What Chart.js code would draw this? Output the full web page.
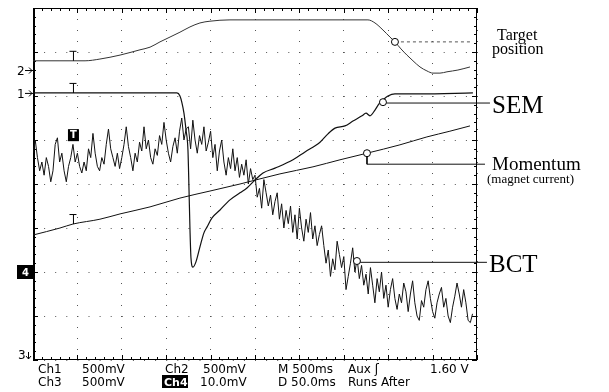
<!DOCTYPE html>
<html><head><meta charset="utf-8">
<script src="https://cdn.jsdelivr.net/npm/chart.js@4.4.0/dist/chart.umd.min.js"></script>
<style>html,body{margin:0;padding:0;background:#fff}#wrap{width:609px;height:392px;position:relative}</style>
</head><body><div id="wrap"><canvas id="c" width="609" height="392"></canvas></div>
<script>
// Time in ms (M 500ms/div, 10 divisions), level in screen divisions (0 = bottom, 8 = top)
const targetTime = [0,304,586,754,980,1205,1318,1430,1543,1655,1768,1880,1993,2218,3772,3851,3941,4020,4076,4144,4211,4279,4358,4436,4504,4583,4662,4785,4921];
const targetLevel = [6.80,6.80,6.80,6.84,6.93,7.05,7.11,7.23,7.34,7.45,7.57,7.66,7.70,7.73,7.73,7.66,7.50,7.34,7.23,7.07,6.93,6.80,6.66,6.57,6.52,6.52,6.55,6.59,6.66];

const semTime = [0,1621,1655,1678,1700,1723,1745,1757,1768,1779,1802,1835,1880,1925,1959,2016,2106,2218,2331,2410,2500,2590,2725,2928,3063,3232,3322,3401,3513,3603,3705,3750,3795,3851,3896,3941,3997,4076,4357,4954];
const semLevel = [6.07,6.07,6.00,5.84,5.61,5.23,4.77,3.86,2.95,2.32,2.11,2.23,2.57,2.89,3.02,3.23,3.41,3.64,3.80,3.91,4.09,4.25,4.36,4.55,4.73,4.95,5.14,5.27,5.32,5.43,5.55,5.61,5.55,5.68,5.82,5.91,6.00,6.05,6.05,6.07];

const momentumTime = [0,304,450,754,980,1318,1655,1993,2331,2781,3153,3457,3761,4132,4436,4695,4921];
const momentumLevel = [2.84,3.00,3.09,3.20,3.32,3.48,3.68,3.84,4.00,4.23,4.39,4.55,4.70,4.89,5.07,5.20,5.32];

// BCT (Ch4) samples, one every 25 ms starting at 0 ms
const bctSampleMs = 25;
const bctLevel = [
4.7,5.0,4.6,4.3,4.5,4.2,4.6,4.4,4.05,4.3,
4.9,5.05,4.5,4.7,4.3,4.05,4.4,4.6,4.9,4.5,
4.7,4.4,4.25,4.5,4.3,4.8,4.6,5.15,4.7,4.4,
4.3,4.6,4.45,4.9,5.25,4.8,4.6,4.4,4.7,4.35,
4.6,4.9,5.3,4.85,4.6,4.3,4.7,4.5,4.95,4.75,
5.3,4.8,5.0,4.6,4.45,4.8,4.65,5.1,4.9,5.4,
5.0,4.7,4.5,4.85,5.05,4.7,5.2,5.5,5.0,5.25,
5.3,4.8,5.45,5.0,4.7,5.1,4.9,5.3,4.75,4.95,
5.2,4.6,4.9,4.3,4.75,5.0,4.5,4.2,4.6,4.35,
4.8,4.3,4.6,4.15,4.45,4.2,4.55,4.0,4.35,4.1,
4.2,3.7,3.9,3.45,4.1,3.8,3.5,3.75,3.3,3.6,
3.8,3.2,3.55,3.0,3.4,3.1,3.5,2.9,3.3,2.75,
3.45,3.0,2.7,3.2,2.9,3.35,2.75,3.05,2.6,2.85,
3.05,2.6,2.2,2.5,1.9,2.3,2.05,2.7,2.4,2.1,
2.35,1.6,1.9,2.2,2.55,2.0,2.3,1.85,2.15,1.7,
1.95,1.5,2.1,1.7,1.3,1.85,1.55,2.0,1.4,1.7,
1.2,1.6,1.85,1.4,1.15,1.5,1.3,1.75,1.55,1.1,
1.5,1.8,1.3,1.0,0.9,1.35,1.2,1.6,1.8,1.4,
1.1,0.95,1.3,1.5,1.65,1.2,1.4,1.0,0.85,1.2,
1.45,1.75,1.5,1.2,1.6,1.3,0.9,0.85,1.05];

// Cursor markers: circle on each trace and leader level to the label
const traceLabels = [['Target','position'],['SEM'],['Momentum','(magnet current)'],['BCT']];
const markerTime = [4076,3941,3761,3648];
const markerLevel = [7.23,5.86,4.70,2.25];
const leaderLevel = [7.23,5.84,4.45,2.22];
const leaderEnd = [4954,5146,5090,5112];

// Trigger-level "T" markers and channel ground markers
const trigTime = 450;
const trigLevel = [6.80,6.07,3.09,5.11];
const groundLabels = ['2','1','4','3'];
const groundLevel = [6.59,6.07,2.0,0.0];

const xy = (t, v) => t.map((x, i) => ({x, y: v[i]}));
const bctData = bctLevel.map((v, i) => ({x: i * bctSampleMs, y: v}));

const leaderSets = markerTime.map((t, i) => {
  const pts = [{x: t, y: markerLevel[i]}];
  if (leaderLevel[i] !== markerLevel[i] && i === 2) pts.push({x: t, y: leaderLevel[i]});
  else pts[0].y = leaderLevel[i];
  pts.push({x: leaderEnd[i], y: leaderLevel[i]});
  return {
    data: pts, borderColor: i === 0 ? '#555' : '#111', borderWidth: 1,
    borderDash: i === 0 ? [3, 3] : [], pointRadius: 0, clip: false, tension: 0, order: 2
  };
});

const scopePlugin = {
  id: 'scope',
  beforeDatasetsDraw(chart) {
    const c = chart.ctx, a = chart.chartArea, xs = chart.scales.x, ys = chart.scales.y;
    c.save();
    c.strokeStyle = '#000';
    c.lineWidth = 1;
    c.beginPath();
    c.moveTo(a.left, a.top + 0.5); c.lineTo(a.right, a.top + 0.5);
    c.moveTo(a.right - 0.5, a.top); c.lineTo(a.right - 0.5, a.bottom);
    c.moveTo(a.left, a.bottom - 0.5); c.lineTo(a.right, a.bottom - 0.5);
    c.stroke();
    c.lineWidth = 2;
    c.beginPath(); c.moveTo(a.left + 1, a.top); c.lineTo(a.left + 1, a.bottom); c.stroke();
    c.lineWidth = 1;
    c.beginPath();
    for (let i = 0; i <= 50; i++) {
      const px = Math.round(xs.getPixelForValue(i * 100)) + 0.5;
      const len = i % 5 === 0 ? 5 : 3;
      c.moveTo(px, a.top); c.lineTo(px, a.top + len);
      c.moveTo(px, a.bottom); c.lineTo(px, a.bottom - len);
    }
    for (let i = 0; i <= 40; i++) {
      const py = Math.round(ys.getPixelForValue(i * 0.2)) + 0.5;
      const len = i % 5 === 0 ? 5 : 3;
      c.moveTo(a.left, py); c.lineTo(a.left + len, py);
      c.moveTo(a.right, py); c.lineTo(a.right - len, py);
    }
    c.stroke();
    c.restore();
  },
  afterDraw(chart) {
    const c = chart.ctx, a = chart.chartArea, xs = chart.scales.x, ys = chart.scales.y;
    c.save();
    c.fillStyle = '#000'; c.strokeStyle = '#000';
    // trigger T markers
    const tx = xs.getPixelForValue(trigTime);
    c.lineWidth = 1;
    for (let i = 0; i < 3; i++) {
      const py = ys.getPixelForValue(trigLevel[i]);
      c.beginPath();
      c.moveTo(tx - 3.5, py - 9.5); c.lineTo(tx + 3.5, py - 9.5);
      c.moveTo(tx + 0.5, py - 9.5); c.lineTo(tx + 0.5, py);
      c.stroke();
    }
    const bty = ys.getPixelForValue(trigLevel[3]);
    c.fillRect(tx - 5, bty - 6, 11, 12);
    c.fillStyle = '#fff';
    c.font = 'bold 10px "DejaVu Sans"';
    c.textAlign = 'center'; c.textBaseline = 'middle';
    c.fillText('T', tx + 0.5, bty + 0.5);
    c.fillStyle = '#000';
    // ground markers on the left
    c.textAlign = 'left'; c.textBaseline = 'alphabetic';
    for (let i = 0; i < groundLabels.length; i++) {
      const py = ys.getPixelForValue(groundLevel[i]);
      if (groundLabels[i] === '4') {
        c.fillRect(a.left - 16, py - 7, 18, 14);
        c.fillStyle = '#fff';
        c.font = 'bold 10px "DejaVu Sans"';
        c.fillText('4', a.left - 11, py + 4);
        c.fillStyle = '#000';
      } else if (groundLabels[i] === '3') {
        c.font = '12px "DejaVu Sans"';
        c.fillText('3', a.left - 15, py - 1);
        c.beginPath();
        c.moveTo(a.left - 4.5, py - 8); c.lineTo(a.left - 4.5, py - 1);
        c.moveTo(a.left - 7, py - 4); c.lineTo(a.left - 4.5, py - 1); c.lineTo(a.left - 2, py - 4);
        c.stroke();
      } else {
        c.font = '12px "DejaVu Sans"';
        c.fillText(groundLabels[i], a.left - 16, py + 5);
        c.beginPath();
        c.moveTo(a.left - 8, py + 0.5); c.lineTo(a.left, py + 0.5);
        c.moveTo(a.left - 4, py - 2.5); c.lineTo(a.left - 1, py + 0.5); c.lineTo(a.left - 4, py + 3.5);
        c.stroke();
      }
    }
    // right-hand labels (serif)
    const rl = a.right;
    const ly = i => ys.getPixelForValue(leaderLevel[i]);
    c.font = '16px "Liberation Serif"';
    c.fillText(traceLabels[0][0], rl + 20, ly(0) - 2);
    c.fillText(traceLabels[0][1], rl + 15, ly(0) + 12);
    c.font = '25px "Liberation Serif"';
    c.fillText(traceLabels[1][0], rl + 15, ly(1) + 10);
    c.font = '19px "Liberation Serif"';
    c.fillText(traceLabels[2][0], rl + 15, ly(2) + 6);
    c.font = '13px "Liberation Serif"';
    c.fillText(traceLabels[2][1], rl + 10, ly(2) + 19);
    c.font = '25px "Liberation Serif"';
    c.fillText(traceLabels[3][0], rl + 12, ly(3) + 10);
    // bottom readout
    c.font = '12px "DejaVu Sans"';
    const b1 = a.bottom + 13, b2 = a.bottom + 26;
    const row1 = [['Ch1', 38], ['500mV', 82], ['Ch2', 165], ['500mV', 203], ['M 500ms', 278], ['Aux ʃ', 348], ['1.60 V', 430]];
    const row2 = [['Ch3', 38], ['500mV', 82], ['10.0mV', 200], ['D 50.0ms', 278], ['Runs After', 348]];
    row1.forEach(([t, x]) => c.fillText(t, x, b1));
    row2.forEach(([t, x]) => c.fillText(t, x, b2));
    c.fillRect(162, b2 - 11, 26, 13);
    c.fillStyle = '#fff';
    c.font = 'bold 11px "DejaVu Sans"';
    c.fillText('Ch4', 164, b2);
    c.restore();
  }
};

new Chart(document.getElementById('c'), {
  type: 'line',
  data: {
    datasets: [
      {data: xy(markerTime, markerLevel), showLine: false, pointRadius: 3.5, pointBackgroundColor: '#fff', pointBorderColor: '#000', pointBorderWidth: 1, order: 0},
      ...leaderSets,
      {data: xy(targetTime, targetLevel), borderColor: '#333', borderWidth: 1, pointRadius: 0, cubicInterpolationMode: 'monotone', order: 3},
      {data: xy(semTime, semLevel), borderColor: '#111', borderWidth: 1.2, pointRadius: 0, cubicInterpolationMode: 'monotone', order: 3},
      {data: xy(momentumTime, momentumLevel), borderColor: '#111', borderWidth: 1, pointRadius: 0, cubicInterpolationMode: 'monotone', order: 3},
      {data: bctData, borderColor: '#111', borderWidth: 1, pointRadius: 0, tension: 0, order: 4}
    ]
  },
  options: {
    responsive: false, animation: false, devicePixelRatio: 1,
    layout: {padding: {left: 33, right: 132, top: 8, bottom: 32}},
    plugins: {legend: {display: false}, tooltip: {enabled: false}},
    scales: {
      x: {type: 'linear', min: 0, max: 5000,
          ticks: {display: false, stepSize: 500},
          grid: {color: '#555', lineWidth: 1, drawTicks: false},
          border: {display: false, dash: [1, 10]}},
      y: {type: 'linear', min: 0, max: 8,
          ticks: {display: false, stepSize: 1},
          grid: {color: '#555', lineWidth: 1, drawTicks: false},
          border: {display: false, dash: [1, 10.1]}}
    }
  },
  plugins: [scopePlugin]
});
</script></body></html>
